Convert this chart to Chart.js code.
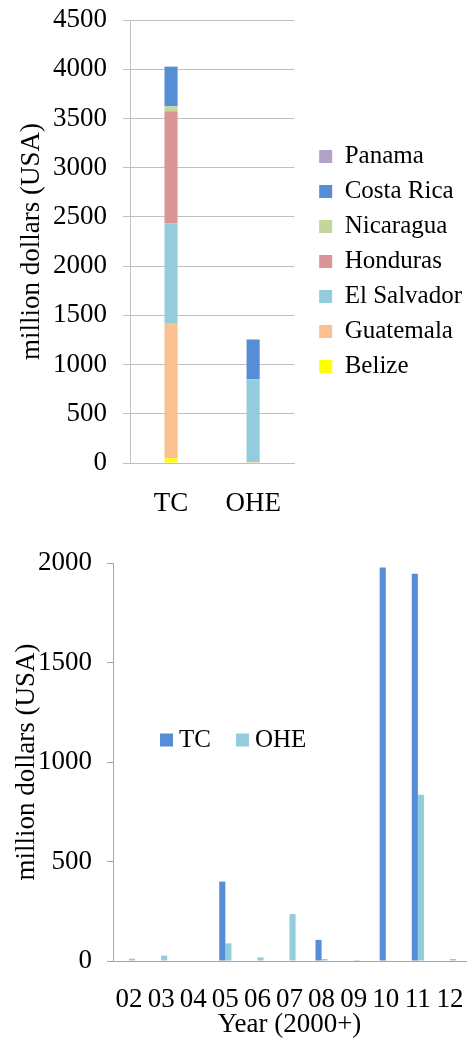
<!DOCTYPE html>
<html>
<head>
<meta charset="utf-8">
<script src="https://cdn.jsdelivr.net/npm/chart.js@4.4.1/dist/chart.umd.min.js"></script>
<style>
  html, body { margin: 0; padding: 0; background: #fff; }
  body { width: 472px; height: 1038px; position: relative; overflow: hidden; }
  .box { position: absolute; left: 0; width: 472px; }
  #top-box { top: 0; height: 530px; }
  #bottom-box { top: 540px; height: 498px; }
</style>
</head>
<body>
<div class="box" id="top-box"><canvas id="by-country"></canvas></div>
<div class="box" id="bottom-box"><canvas id="by-year"></canvas></div>
<script>
// Top chart: amount per country, stacked by project type
const projectTypes = ['TC', 'OHE'];
const belize = [48, 0];
const guatemala = [1375, 10];
const elSalvador = [1010, 840];
const honduras = [1141, 0];
const nicaragua = [51, 0];
const costaRica = [399, 404];
const panama = [3, 0];

// Bottom chart: amount per year
const years = ['02', '03', '04', '05', '06', '07', '08', '09', '10', '11', '12'];
const tcByYear = [0, 0, 0, 399, 0, 0, 106, 0, 1978, 1946, 0];
const oheByYear = [12, 27, 0, 89, 18, 236, 10, 5, 3, 835, 10];

const countryTicks = { min: 0, max: 4500, step: 500 };
const yearTicks = { min: 0, max: 2000, step: 500 };

const serif = '"Liberation Serif", "Times New Roman", serif';
const gridGrey = '#bfbfbf';
const axisGrey = '#a6a6a6';

Chart.defaults.font.family = serif;
Chart.defaults.color = '#000';
Chart.defaults.animation = false;

const tickFont = { size: 27, lineHeight: 1 };
const titleFont = { size: 27, lineHeight: 1 };
const plain = v => String(v);

// chart.js adds tick padding to the scale margins too; pin the sizes we want
const fixY = (width, top) => s => { s.width = width; s.paddingTop = top; s.paddingBottom = 0; };
const fixX = height => s => { s.height = height; s.paddingLeft = 0; s.paddingRight = 0; };

new Chart(document.getElementById('by-country'), {
  type: 'bar',
  data: {
    labels: projectTypes,
    datasets: [
      { label: 'Belize', data: belize, backgroundColor: '#ffff00' },
      { label: 'Guatemala', data: guatemala, backgroundColor: '#fac090' },
      { label: 'El Salvador', data: elSalvador, backgroundColor: '#93cddd' },
      { label: 'Honduras', data: honduras, backgroundColor: '#d99694' },
      { label: 'Nicaragua', data: nicaragua, backgroundColor: '#c3d69b' },
      { label: 'Costa Rica', data: costaRica, backgroundColor: '#558ed5' },
      { label: 'Panama', data: panama, backgroundColor: '#b3a2c7' },
    ].map(d => ({ ...d, categoryPercentage: 0.16, barPercentage: 1, borderWidth: 0 })),
  },
  options: {
    responsive: true,
    maintainAspectRatio: false,
    layout: { padding: { top: 7, bottom: 14, left: 18, right: 0 } },
    plugins: {
      tooltip: { enabled: false },
      legend: {
        position: 'right',
        reverse: true,
        maxWidth: 200,
        labels: { font: { size: 25 }, boxWidth: 13, boxHeight: 13, padding: 10, color: '#000' },
      },
    },
    scales: {
      x: {
        stacked: true,
        grid: { display: false, drawTicks: false },
        border: { display: true, color: gridGrey },
        ticks: { font: tickFont, padding: 27, maxRotation: 0, autoSkip: false },
        afterFit: fixX(53),
      },
      y: {
        stacked: true,
        min: countryTicks.min,
        max: countryTicks.max,
        ticks: { stepSize: countryTicks.step, font: tickFont, padding: 16, callback: plain },
        grid: { color: gridGrey, tickLength: 7 },
        border: { display: true, color: gridGrey },
        title: {
          display: true,
          text: 'million dollars (USA)',
          font: titleFont,
          padding: { top: 0, bottom: 10 },
        },
        afterFit: fixY(112, 20),
      },
      gap: {
        position: 'right',
        display: true,
        grid: { display: false },
        border: { display: false },
        ticks: { display: false },
        afterFit: s => { s.width = 15; s.paddingTop = 0; s.paddingBottom = 0; },
      },
    },
  },
});

// legend drawn inside the plot area, in one row
const insideLegend = {
  id: 'insideLegend',
  afterDraw(chart, args, opts) {
    const { ctx, chartArea } = chart;
    ctx.save();
    ctx.font = '25px ' + serif;
    ctx.textBaseline = 'middle';
    let x = chartArea.left + opts.x;
    const y = chartArea.top + opts.y;
    chart.data.datasets.forEach(ds => {
      ctx.fillStyle = ds.backgroundColor;
      ctx.fillRect(x, y - 6.5, 13, 13);
      ctx.fillStyle = '#000';
      ctx.fillText(ds.label, x + 19, y);
      x += 19 + ctx.measureText(ds.label).width + opts.gap;
    });
    ctx.restore();
  },
};

new Chart(document.getElementById('by-year'), {
  type: 'bar',
  data: {
    labels: years,
    datasets: [
      { label: 'TC', data: tcByYear, backgroundColor: '#558ed5' },
      { label: 'OHE', data: oheByYear, backgroundColor: '#93cddd' },
    ].map(d => ({ ...d, categoryPercentage: 0.38, barPercentage: 1, borderWidth: 0 })),
  },
  plugins: [insideLegend],
  options: {
    responsive: true,
    maintainAspectRatio: false,
    layout: { padding: { top: 10, bottom: 0, left: 13, right: 6 } },
    plugins: {
      tooltip: { enabled: false },
      legend: { display: false },
      insideLegend: { x: 47, y: 177, gap: 25 },
    },
    scales: {
      x: {
        grid: { display: false, drawTicks: false },
        border: { display: true, color: axisGrey },
        ticks: { font: tickFont, padding: 25, maxRotation: 0, minRotation: 0, autoSkip: false },
        title: {
          display: true,
          text: 'Year (2000+)',
          font: titleFont,
          padding: 0,
        },
        afterFit: fixX(77),
      },
      y: {
        min: yearTicks.min,
        max: yearTicks.max,
        ticks: { stepSize: yearTicks.step, font: tickFont, padding: 15, callback: plain },
        grid: { drawOnChartArea: false, color: axisGrey, tickLength: 6 },
        border: { display: true, color: axisGrey },
        title: {
          display: true,
          text: 'million dollars (USA)',
          font: titleFont,
          padding: 0,
        },
        afterFit: fixY(100, 23),
      },
    },
  },
});
</script>
</body>
</html>
